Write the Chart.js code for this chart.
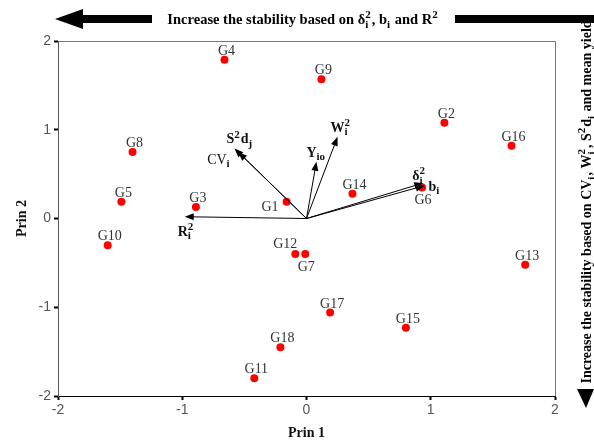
<!DOCTYPE html>
<html lang="en">
<head>
<meta charset="UTF-8">
<title>Biplot Prin 1 / Prin 2</title>
<style>
  body { margin: 0; background: #fff; }
</style>
<script src="https://cdn.jsdelivr.net/npm/chart.js"></script>
</head>
<body>
<canvas id="biplot" width="594" height="444"></canvas>
<script>
// genotype scores
const genotypes = ['G1','G2','G3','G4','G5','G6','G7','G8','G9','G10','G11','G12','G13','G14','G15','G16','G17','G18'];
const prin1 = [-0.16, 1.11, -0.89, -0.66, -1.49, 0.93, -0.01, -1.40, 0.12, -1.60, -0.42, -0.09, 1.76, 0.37, 0.80, 1.65, 0.19, -0.21];
const prin2 = [0.19, 1.08, 0.13, 1.79, 0.19, 0.35, -0.40, 0.75, 1.57, -0.30, -1.80, -0.40, -0.52, 0.28, -1.23, 0.82, -1.06, -1.45];
const labelSide = ['left','above','above','above','above','below','below','above','above','above','above','aboveLeft','above','above','above','above','above','above'];

// stability parameter vectors
const traits = ['R2i','S2dj','CVi','Yio','W2i','d2i','bi'];
const traitX = [-0.98, -0.58, -0.55, 0.08, 0.25, 0.94, 0.95];
const traitY = [0.02, 0.79, 0.75, 0.64, 0.92, 0.40, 0.37];
const traitText = [
    [{t:'R'},{sup:'2',sub:'i'}],
    [{t:'S'},{sup:'2'},{t:'d'},{sub:'j'}],
    [{t:'CV',normal:true},{sub:'i'}],
    [{t:'Y'},{sub:'io'}],
    [{t:'W'},{sup:'2',sub:'i'}],
    [{t:'\u03b4'},{sup:'2',sub:'i'}],
    [{t:'b'},{sub:'i'}]
];
// label offset from arrow tip (px)
const traitOffset = [[-7,19],[-8,-5],[-31,12],[-10,-5],[-7,-5],[-11,-3],[4,5]];

const axisTicks = [-2, -1, 0, 1, 2];

const SERIF = '"Liberation Serif", "DejaVu Serif", serif';

function richWidth(ctx, segs, size, bold) {
    let w = 0;
    segs.forEach(s => {
        if (s.t) {
            ctx.font = (s.normal || !bold ? '' : 'bold ') + size + 'px ' + SERIF;
            w += ctx.measureText(s.t).width;
        } else {
            ctx.font = (bold ? 'bold ' : '') + Math.round(size * 0.75) + 'px ' + SERIF;
            const a = s.sup ? ctx.measureText(s.sup).width : 0;
            const b = s.sub ? ctx.measureText(s.sub).width : 0;
            w += Math.max(a, b) + 1;
        }
    });
    return w;
}

function drawRich(ctx, x, y, segs, size, bold) {
    ctx.textAlign = 'left';
    ctx.textBaseline = 'alphabetic';
    segs.forEach(s => {
        if (s.t) {
            ctx.font = (s.normal || !bold ? '' : 'bold ') + size + 'px ' + SERIF;
            ctx.fillText(s.t, x, y);
            x += ctx.measureText(s.t).width;
        } else {
            ctx.font = (bold ? 'bold ' : '') + Math.round(size * 0.75) + 'px ' + SERIF;
            let w = 0;
            if (s.sup) { ctx.fillText(s.sup, x, y - size * 0.4); w = ctx.measureText(s.sup).width; }
            if (s.sub) { ctx.fillText(s.sub, x, y + size * 0.25); w = Math.max(w, ctx.measureText(s.sub).width); }
            x += w + 1;
        }
    });
}

function arrow(ctx, x0, y0, x1, y1) {
    const ang = Math.atan2(y1 - y0, x1 - x0);
    const len = 9, hw = 3.5;
    ctx.beginPath();
    ctx.moveTo(x0, y0);
    ctx.lineTo(x1 - Math.cos(ang) * len * 0.8, y1 - Math.sin(ang) * len * 0.8);
    ctx.stroke();
    ctx.beginPath();
    ctx.moveTo(x1, y1);
    ctx.lineTo(x1 - Math.cos(ang) * len - Math.sin(ang) * hw, y1 - Math.sin(ang) * len + Math.cos(ang) * hw);
    ctx.lineTo(x1 - Math.cos(ang) * len + Math.sin(ang) * hw, y1 - Math.sin(ang) * len - Math.cos(ang) * hw);
    ctx.closePath();
    ctx.fill();
}

const biplotExtras = {
    id: 'biplotExtras',
    afterDatasetsDraw(chart) {
        const ctx = chart.ctx;
        const xs = chart.scales.x, ys = chart.scales.y;
        const area = chart.chartArea;
        ctx.save();

        // frame top / right
        ctx.strokeStyle = '#777';
        ctx.lineWidth = 1;
        ctx.beginPath();
        ctx.moveTo(area.left, area.top + 0.5);
        ctx.lineTo(area.right + 0.5, area.top + 0.5);
        ctx.lineTo(area.right + 0.5, area.bottom);
        ctx.stroke();

        // genotype labels
        ctx.fillStyle = '#333';
        ctx.font = '14px ' + SERIF;
        ctx.textBaseline = 'alphabetic';
        genotypes.forEach((g, i) => {
            const px = xs.getPixelForValue(prin1[i]);
            const py = ys.getPixelForValue(prin2[i]);
            const side = labelSide[i];
            if (side === 'left') {
                ctx.textAlign = 'right';
                ctx.fillText(g, px - 8, py + 9);
            } else if (side === 'below') {
                ctx.textAlign = 'center';
                ctx.fillText(g, px + 1, py + 17);
            } else if (side === 'aboveLeft') {
                ctx.textAlign = 'center';
                ctx.fillText(g, px - 10, py - 6);
            } else {
                ctx.textAlign = 'center';
                ctx.fillText(g, px + 2, py - 5);
            }
        });

        // vectors
        const ox = xs.getPixelForValue(0), oy = ys.getPixelForValue(0);
        ctx.strokeStyle = '#000';
        ctx.fillStyle = '#000';
        ctx.lineWidth = 1;
        traits.forEach((t, i) => {
            const tx = xs.getPixelForValue(traitX[i]);
            const ty = ys.getPixelForValue(traitY[i]);
            arrow(ctx, ox, oy, tx, ty);
            ctx.fillStyle = '#111';
            drawRich(ctx, tx + traitOffset[i][0], ty + traitOffset[i][1], traitText[i], 14, true);
            ctx.fillStyle = '#000';
        });

        // axis titles
        ctx.fillStyle = '#111';
        ctx.font = 'bold 14px ' + SERIF;
        ctx.textAlign = 'center';
        ctx.textBaseline = 'middle';
        ctx.fillText('Prin 1', (area.left + area.right) / 2, 433);
        ctx.save();
        ctx.translate(22, (area.top + area.bottom) / 2);
        ctx.rotate(-Math.PI / 2);
        ctx.fillText('Prin 2', 0, 0);
        ctx.restore();

        // top banner arrow
        ctx.fillStyle = '#000';
        ctx.beginPath();
        ctx.moveTo(55, 19);
        ctx.lineTo(83, 9);
        ctx.lineTo(83, 29);
        ctx.closePath();
        ctx.fill();
        ctx.fillRect(82, 15, 70, 8);
        ctx.fillRect(455, 15, 139, 8);
        const topText = [{t:'Increase the stability based on \u03b4'},{sup:'2',sub:'i'},{t:', b'},{sub:'i'},{t:' and R'},{sup:'2'}];
        const tw = richWidth(ctx, topText, 14.5, true);
        drawRich(ctx, 303 - tw / 2, 24, topText, 14.5, true);

        // right banner
        const sideText = [{t:'Increase the stability based on CV'},{sub:'i'},{t:', W'},{sup:'2',sub:'i'},{t:', S'},{sup:'2'},{t:'d'},{sub:'i'},{t:' and mean yield'}];
        const sw = richWidth(ctx, sideText, 14, true);
        ctx.save();
        ctx.translate(591, 202);
        ctx.rotate(-Math.PI / 2);
        drawRich(ctx, -sw / 2, 0, sideText, 14, true);
        ctx.restore();
        ctx.beginPath();
        ctx.moveTo(577, 389);
        ctx.lineTo(594, 389);
        ctx.lineTo(586, 408);
        ctx.closePath();
        ctx.fill();

        ctx.restore();
    }
};

const axisCommon = {
    type: 'linear',
    min: -2,
    max: 2,
    afterBuildTicks: (s) => { s.ticks = axisTicks.map(v => ({ value: v })); },
    grid: { drawOnChartArea: false, drawTicks: true, tickLength: 4, tickWidth: 2, tickColor: '#000' },
    ticks: { color: '#555', font: { family: '"Liberation Sans", Arial, sans-serif', size: 14 } }
};

new Chart(document.getElementById('biplot'), {
    type: 'scatter',
    data: {
        datasets: [{
            label: 'Genotypes',
            data: genotypes.map((g, i) => ({ x: prin1[i], y: prin2[i] })),
            backgroundColor: '#ff0000',
            borderWidth: 0,
            pointRadius: 4,
            pointHoverRadius: 4
        }]
    },
    options: {
        responsive: false,
        animation: false,
        layout: { padding: { left: 0, top: 41, right: 39, bottom: 0 } },
        plugins: { legend: { display: false }, tooltip: { enabled: false } },
        scales: {
            x: Object.assign({}, axisCommon, {
                border: { color: '#000', width: 1 },
                ticks: Object.assign({}, axisCommon.ticks, { padding: 2 }),
                afterFit: (s) => { s.height = 48; }
            }),
            y: Object.assign({}, axisCommon, {
                border: { color: '#555', width: 1 },
                ticks: Object.assign({}, axisCommon.ticks, { padding: 3 }),
                afterFit: (s) => { s.width = 58; }
            })
        }
    },
    plugins: [biplotExtras]
});
</script>
</body>
</html>
